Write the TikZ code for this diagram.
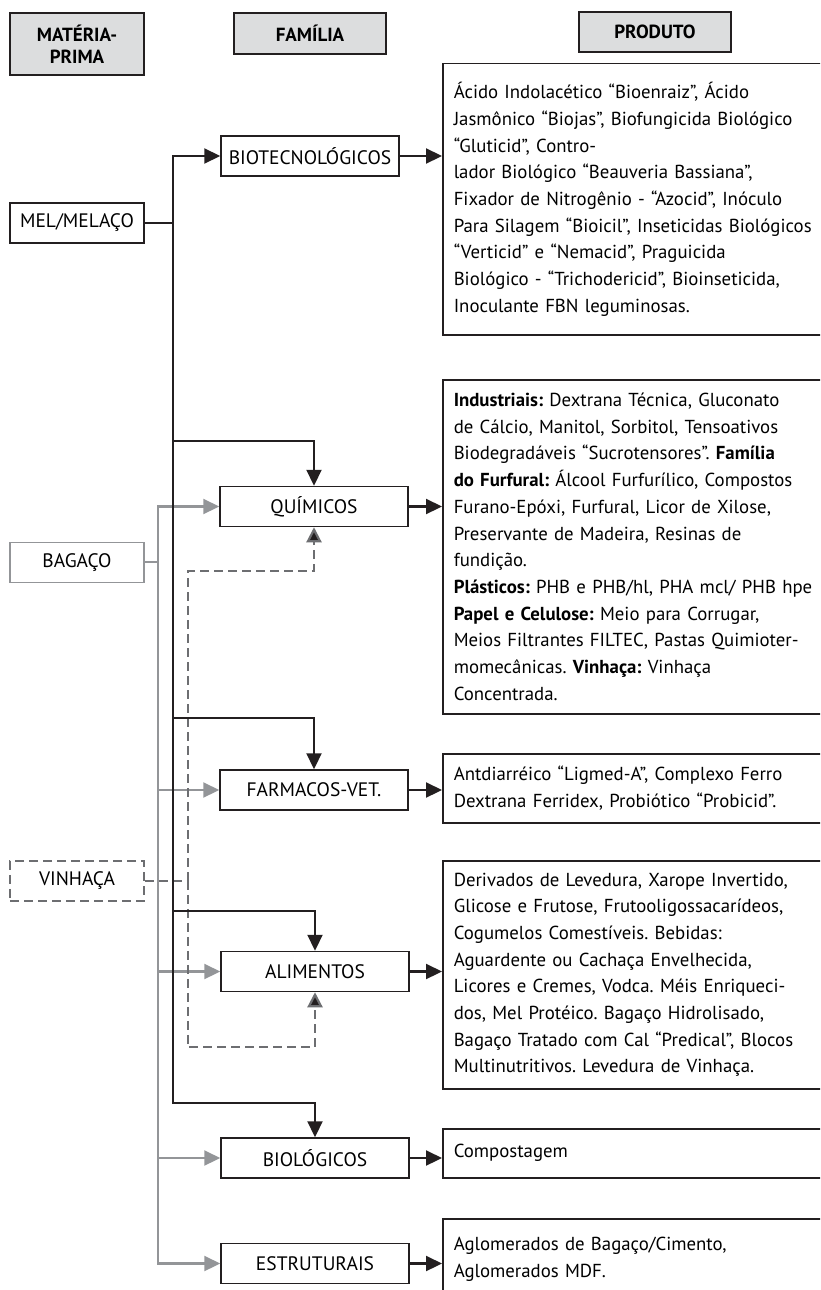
\documentclass[tikz,border=0pt]{standalone}
\usepackage{fontspec}
\setmainfont{PT Sans}
\frenchspacing
\usetikzlibrary{arrows.meta, positioning}

\definecolor{inkblack}{RGB}{35,31,32}
\definecolor{lightline}{RGB}{147,149,152}
\definecolor{dashline}{RGB}{109,110,113}
\definecolor{headfill}{RGB}{220,221,222}

\begin{document}
\begin{tikzpicture}[
    x=1pt, y=1pt,
    font = \fontsize{19.5}{26.7}\selectfont,
    headbox/.style = {rectangle, draw=inkblack, line width=2.2pt, fill=headfill, align=center, minimum width=152pt, minimum height=41pt, font = \fontsize{19}{22}\selectfont\bfseries},
    rawbox/.style = {rectangle, draw=inkblack, line width=1.5pt, minimum width=134pt, minimum height=40pt, inner xsep=3pt},
    familybox/.style = {rectangle, draw=inkblack, line width=1.5pt, minimum width=188pt, minimum height=40pt, inner xsep=3pt},
    productbox/.style = {rectangle, draw=inkblack, line width=1.5pt, anchor=north west, align=left, text width=366pt, inner xsep=11pt, font = \fontsize{18.8}{26.7}\selectfont},
    main/.style = {draw=inkblack, line width=2.2pt},
    light/.style = {draw=lightline, line width=2.2pt},
    dashedline/.style = {draw=dashline, line width=2.2pt, dash pattern=on 9pt off 5pt},
    >={Triangle[length=16pt, width=15pt]}]

\useasboundingbox (0,0) rectangle (820,-1290);
\clip (0,0) rectangle (820,-1290);

% headers
\node[headbox, minimum width=134pt, minimum height=62pt] (A) at (77,-44) {MATÉRIA-\\PRIMA};
\node[headbox] (B) at (310,-33.5) {FAMÍLIA};
\node[headbox, minimum height=40pt] (C) at (655,-32) {PRODUTO};

% materia-prima
\node[rawbox, below=126pt of A] (D) {MEL/MELAÇO};
\node[rawbox, draw=lightline, below=298pt of D] (K) {BAGAÇO};
\node[rawbox, draw=dashline, dash pattern=on 9pt off 5pt, below=277pt of K] (L) {VINHAÇA};

% familia
\node[familybox, minimum width=178pt, text width=170pt, align=center] (E) at (310,-156) {BIOTECNOLÓGICOS};
\node[familybox, below=309pt of E, xshift=4pt] (F) {QUÍMICOS};
\node[familybox, below=242pt of F] (G) {FARMACOS-VET.};
\node[familybox, below=140pt of G, xshift=1pt] (H) {ALIMENTOS};
\node[familybox, below=145pt of H] (I) {BIOLÓGICOS};
\node[familybox, below=64pt of I] (J) {ESTRUTURAIS};

% produto
\node[productbox, minimum height=271pt] (M) at (442,-63) {Ácido Indolacético “Bioenraiz”, Ácido\\
  Jasmônico “Biojas”, Biofungicida Biológico\\
  “Gluticid”, Contro-\\
  lador Biológico “Beauveria Bassiana”,\\
  Fixador de Nitrogênio - “Azocid”, Inóculo\\
  Para Silagem “Bioicil”, Inseticidas Biológicos\\
  “Verticid” e “Nemacid”, Praguicida\\
  Biológico - “Trichodericid”, Bioinseticida,\\
  Inoculante FBN leguminosas.};
\node[productbox, minimum height=334pt] (N) at (442,-379) {\textbf{Industriais:} Dextrana Técnica, Gluconato\\
  de Cálcio, Manitol, Sorbitol, Tensoativos\\
  Biodegradáveis “Sucrotensores”. \textbf{Família}\\
  \textbf{do Furfural:} Álcool Furfurílico, Compostos\\
  Furano-Epóxi, Furfural, Licor de Xilose,\\
  Preservante de Madeira, Resinas de\\
  fundição.\\
  \textbf{Plásticos:} PHB e PHB/hl, PHA mcl/ PHB hpe\\
  \textbf{Papel e Celulose:} Meio para Corrugar,\\
  Meios Filtrantes FILTEC, Pastas Quimioter-\\
  momecânicas. \textbf{Vinhaça:} Vinhaça\\
  Concentrada.};
\node[productbox, minimum height=69pt] (O) at (442,-753) {Antdiarréico “Ligmed-A”, Complexo Ferro\\
  Dextrana Ferridex, Probiótico “Probicid”.};
\node[productbox, minimum height=228pt] (P) at (442,-860) {Derivados de Levedura, Xarope Invertido,\\
  Glicose e Frutose, Frutooligossacarídeos,\\
  Cogumelos Comestíveis. Bebidas:\\
  Aguardente ou Cachaça Envelhecida,\\
  Licores e Cremes, Vodca. Méis Enriqueci-\\
  dos, Mel Protéico. Bagaço Hidrolisado,\\
  Bagaço Tratado com Cal “Predical”, Blocos\\
  Multinutritivos. Levedura de Vinhaça.};
\node[productbox, minimum height=49pt] (Q) at (442,-1128) {Compostagem};
\node[productbox, minimum height=81pt] (R) at (442,-1218) {Aglomerados de Bagaço/Cimento,\\
  Aglomerados MDF.};

%connectors
\coordinate[right=28pt of D] (t);
\coordinate[right=13pt of K] (u);
\coordinate[right=43pt of L] (v);
\coordinate[above=45pt of F] (f1);
\coordinate[above=51pt of G] (g1);
\coordinate[above=40pt of H] (h1);
\coordinate[above=34pt of I] (i1);
\coordinate[below=44pt of F] (f2);
\coordinate[below=55pt of H] (h2);

\draw[light] (K) -- (u);
\draw[light, ->] (u) |- (F);
\draw[light, ->] (u) |- (G);
\draw[light, ->] (u) |- (H);
\draw[light, ->] (u) |- (I);
\draw[light, ->] (u) |- (J);

\draw[dashedline] (L) -- (v);
\draw[dashedline, -{Triangle[length=15pt, width=15pt, fill=inkblack]}] (v) |- (f2) -- (F);
\draw[dashedline, -{Triangle[length=15pt, width=15pt, fill=inkblack]}] (v) |- (h2) -- (H);

\draw[main] (D) -- (t);
\draw[main, ->] (t) |- (E);
\draw[main, ->] (t) |- (i1) -- (I);
\draw[main, ->] (t |- f1) -- (f1) -- (F);
\draw[main, ->] (t |- g1) -- (g1) -- (G);
\draw[main, ->] (t |- h1) -- (h1) -- (H);

\draw[main, ->] (E) -- (E -| M.west);
\draw[main, ->] (F) -- (F -| N.west);
\draw[main, ->] (G) -- (G -| O.west);
\draw[main, ->] (H) -- (H -| P.west);
\draw[main, ->] (I) -- (I -| Q.west);
\draw[main, ->] (J) -- (J -| R.west);
\end{tikzpicture}
\end{document}
